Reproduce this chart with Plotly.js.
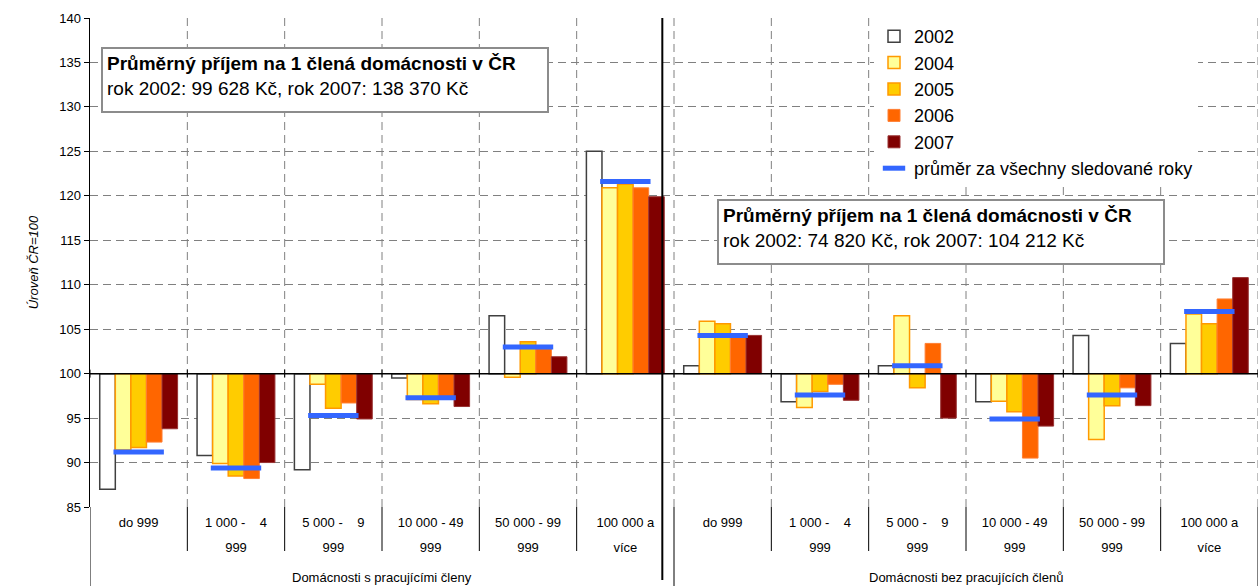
<!DOCTYPE html>
<html>
<head>
<meta charset="utf-8">
<script src="https://cdn.plot.ly/plotly-3.0.1.min.js"></script>
<style>
html,body{margin:0;padding:0;background:#fff;}
#chart{width:1260px;height:586px;}
</style>
</head>
<body>
<div id="chart"></div>
<script>
// ---- data ----
const groups = ["Domácnosti s pracujícími členy", "Domácnosti bez pracujících členů"];
const categories = ["do 999", "1 000 - 4 999", "5 000 - 9 999", "10 000 - 49 999", "50 000 - 99 999", "100 000 a více"];
const tickLabels = [["do 999"], ["1 000 -\u00a0\u00a0\u00a0\u00a04", "999"], ["5 000 -\u00a0\u00a0\u00a0\u00a09", "999"], ["10 000 - 49", "999"], ["50 000 - 99", "999"], ["100 000 a", "více"]];
const years = ["2002", "2004", "2005", "2006", "2007"];
const v2002 = [87.0, 90.8, 89.2, 99.5, 106.5, 125.0, 100.9, 96.85, 100.9, 96.85, 104.3, 103.4];
const v2004 = [91.4, 89.9, 98.8, 97.1, 99.6, 120.9, 105.9, 96.2, 106.5, 96.9, 92.6, 106.7];
const v2005 = [91.7, 88.5, 96.1, 96.6, 103.6, 121.3, 105.6, 98.0, 98.4, 95.7, 96.4, 105.6];
const v2006 = [92.3, 88.2, 96.7, 97.2, 102.8, 120.9, 104.5, 98.8, 103.4, 90.5, 98.4, 108.4];
const v2007 = [93.8, 90.0, 94.9, 96.3, 101.9, 119.9, 104.3, 97.0, 95.0, 94.1, 96.4, 110.8];
const average = [91.2, 89.4, 95.3, 97.3, 103.0, 121.6, 104.3, 97.6, 100.9, 94.9, 97.6, 107.0];
const avgName = "průměr za všechny sledované roky";
const yTitle = "Úroveň ČR=100";
const note1 = ["Průměrný příjem na 1 člená domácnosti v ČR", "rok 2002: 99 628 Kč, rok 2007: 138 370 Kč"];
const note2 = ["Průměrný příjem na 1 člená domácnosti v ČR", "rok 2002: 74 820 Kč, rok 2007: 104 212 Kč"];
const baseLevel = 100;

// ---- styles ----
const FONT = "Liberation Sans, Arial, sans-serif";
const styles = [
  {fill: "#FFFFFF", line: "#404040", w: 1.5},
  {fill: "#FFFF99", line: "#FF9900", w: 1.5},
  {fill: "#FFCC00", line: "#FF9900", w: 1.5},
  {fill: "#FF6600", line: "#FF7F33", w: 1},
  {fill: "#800000", line: "#993333", w: 1}
];
const series = [v2002, v2004, v2005, v2006, v2007];

const nCat = categories.length;
const nAll = groups.length * nCat;
const xIdx = [];
for (let g = 0; g < groups.length; g++) for (let c = 0; c < nCat; c++) xIdx.push(g * nCat + c);

const traces = series.map((vals, i) => ({
  type: "bar",
  name: years[i],
  x: xIdx,
  y: vals.map(v => v - baseLevel),
  base: baseLevel,
  marker: {color: styles[i].fill, line: {color: styles[i].line, width: styles[i].w}},
  hoverinfo: "skip"
}));
traces.push({
  type: "scatter",
  mode: "markers",
  name: avgName,
  x: xIdx,
  y: average,
  marker: {symbol: "line-ew", size: 36, color: "#3366FF", line: {color: "#3366FF", width: 5}},
  hoverinfo: "skip",
  cliponaxis: false
});

// ---- shapes ----
const shapes = [];
const plotH = 586 - 18 - 79;
const pyBelow = px => -px / plotH;
for (let k = 0; k <= nAll; k++) {
  const xb = k - 0.5;
  if (k > 0) {
    shapes.push({type: "line", xref: "x", yref: "paper", x0: xb, x1: xb, y0: 0, y1: 1,
      line: {color: "#808080", width: 1, dash: "8px,5px"}, layer: "below"});
  }
  shapes.push({type: "line", xref: "x", yref: "y", x0: xb, x1: xb, y0: baseLevel - 0.45, y1: baseLevel + 0.45,
    line: {color: "#000", width: 1}});
  const isGroupEdge = (k % nCat === 0);
  shapes.push({type: "line", xref: "x", yref: "paper", x0: xb, x1: xb, y0: 0,
    y1: isGroupEdge ? pyBelow(79) : pyBelow(44), line: {color: "#000", width: 1}});
}
shapes.push({type: "line", xref: "paper", yref: "y", x0: 0, x1: 1, y0: baseLevel, y1: baseLevel,
  line: {color: "#000", width: 1.5}});
shapes.push({type: "line", xref: "x", yref: "paper", x0: nCat - 0.62, x1: nCat - 0.62, y0: 1, y1: pyBelow(73),
  line: {color: "#000", width: 2}});

// ---- annotations ----
const annotations = [];
groups.forEach((g, i) => {
  annotations.push({text: g, xref: "x", yref: "paper", x: i * nCat + (nCat - 1) / 2, y: pyBelow(70),
    xanchor: "center", yanchor: "middle", showarrow: false, font: {family: FONT, size: 13, color: "#000"}});
});
function noteBox(lines, x, y) {
  return {text: "<b>" + lines[0] + "</b><br>" + lines[1], xref: "paper", yref: "paper", x: x, y: y,
    xanchor: "left", yanchor: "top", align: "left", valign: "top", showarrow: false,
    width: 436, height: 54, bgcolor: "#FFFFFF", bordercolor: "#8C8C8C", borderwidth: 2, borderpad: 4,
    font: {family: FONT, size: 19, color: "#000"}};
}
annotations.push(noteBox(note1, (101 - 90) / 1168, (507 - 47) / plotH));
annotations.push(noteBox(note2, (717 - 90) / 1168, (507 - 199) / plotH));

const tickText = tickLabels.map(ls => ls.map(s => '<span style="font-size:13px">' + s + '</span>').join("<br>"));

const layout = {
  width: 1260, height: 586,
  margin: {l: 90, r: 2, t: 18, b: 79},
  paper_bgcolor: "#fff", plot_bgcolor: "#fff",
  font: {family: FONT, color: "#000"},
  barmode: "group", bargap: 0.2, bargroupgap: 0,
  showlegend: true,
  legend: {x: (874 - 90) / 1168, y: 1, xanchor: "left", yanchor: "top", bgcolor: "#fff",
    font: {family: FONT, size: 18, color: "#000"}, borderwidth: 0, tracegroupgap: 0},
  xaxis: {range: [-0.5, nAll - 0.5], tickvals: xIdx, ticktext: tickText.concat(tickText),
    showgrid: false, zeroline: false, showline: false, ticks: "", fixedrange: true,
    tickfont: {family: FONT, size: 19, color: "#000"}},
  yaxis: {range: [85, 140], dtick: 5, tick0: 85, showgrid: true, gridcolor: "#808080", griddash: "8px,5px",
    gridwidth: 1, zeroline: false, showline: true, linecolor: "#000", linewidth: 1.5,
    ticks: "outside", ticklen: 5, tickcolor: "#000",
    tickfont: {family: FONT, size: 13, color: "#000"},
    title: {text: yTitle, font: {family: FONT, size: 13, color: "#000", style: "italic"}, standoff: 17}},
  shapes: shapes,
  annotations: annotations
};

Plotly.newPlot("chart", traces, layout, {displayModeBar: false, staticPlot: true});
</script>
</body>
</html>
